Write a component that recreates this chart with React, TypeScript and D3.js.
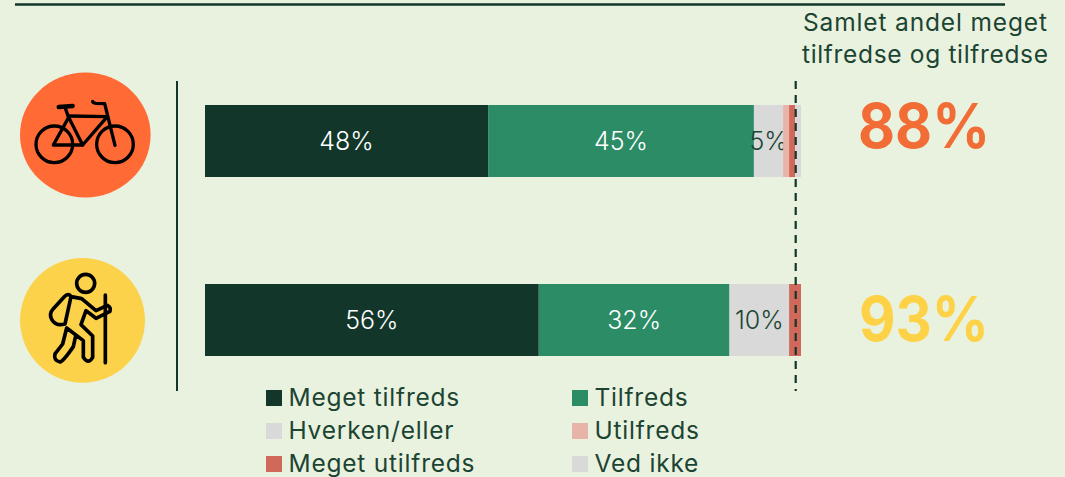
import React from "react";
import * as d3 from "d3";

const rows = ["Sykkel", "Fottur"];
const categories = ["Meget tilfreds", "Tilfreds", "Hverken/eller", "Utilfreds", "Meget utilfreds", "Ved ikke"];
const cykelValues = [47.5, 44.6, 4.9, 1, 1, 1];
const vandreValues = [56, 32, 10, 0, 2, 0];
const totals = ["88%", "93%"];
const colors = ["#12372a", "#2c8c66", "#d9d9d9", "#e8b4aa", "#d0695a", "#d9d9d9"];
const labelColors = ["#ffffff", "#ffffff", "#1c4433", "#1c4433", "#1c4433", "#1c4433"];
const totalColors = ["#f26d36", "#fdd247"];
const title = ["Samlet andel meget", "tilfredse og tilfredse"];
const seriesByRow = [cykelValues, vandreValues];
const FONT = "Inter, sans-serif";
const INK = "#1c4433";

function stack(values: number[]) {
  let sum = 0;
  return values.map((v) => {
    const s = { x0: sum, x1: sum + v, v };
    sum += v;
    return s;
  });
}

function Bike() {
  return (
    <g transform="translate(10,60) scale(0.3333)" fill="none" stroke="#000" strokeWidth={10} strokeLinecap="round" strokeLinejoin="round">
      <circle cx={133} cy={253} r={55} />
      <circle cx={315} cy={253} r={55} />
      <path d="M130,255 L176,172 L218,255 Z" />
      <path d="M218,255 L292,170 L175,168" />
      <path d="M165,142 L176,172" />
      <path d="M146,141 L188,138" strokeWidth={13} />
      <path d="M315,256 L284,131 L258,130 Q248,129 248,124" />
    </g>
  );
}

function Hiker() {
  return (
    <g transform="translate(10,250) scale(0.3333)" fill="none" stroke="#000" strokeWidth={11} strokeLinecap="round" strokeLinejoin="round">
      <circle cx={227} cy={100} r={27} />
      <path d="M286,135 L286,338" />
      <path d="M180,136 Q172,130 163,140 L130,176 Q116,192 125,208 Q138,230 165,222 L183,140 L215,146 L258,182 L292,166 Q304,172 300,184 L258,205 L228,182 L213,224 L248,258 L248,322 Q235,345 220,322 L220,272 L170,234 L158,282 L135,312 Q130,332 150,336 Q160,334 190,290 L196,262" />
    </g>
  );
}

export default function App() {
  const x = d3.scaleLinear().domain([0, 100]).range([205, 801]);
  const y = d3.scaleBand().domain(rows).range([105, 356]).paddingInner(107 / 179);
  return (
    <svg width={1065} height={477} style={{ position: "absolute", left: 0, top: 0 }} fontFamily={FONT}>
      <rect width={1065} height={477} fill="#e9f2df" />
      <line x1={15} x2={1005} y1={4.5} y2={4.5} stroke="#12372a" strokeWidth={2.5} />
      <line x1={177} x2={177} y1={81} y2={391} stroke="#12372a" strokeWidth={2} />
      <ellipse cx={85.3} cy={135} rx={65.3} ry={62.4} fill="#ff6a35" />
      <Bike />
      <ellipse cx={82.5} cy={320.3} rx={62.5} ry={62.4} fill="#fcd24a" />
      <Hiker />
      {rows.map((r, ri) => (
        <g key={r}>
          {stack(seriesByRow[ri]).map((s, i) =>
            s.v > 0 ? (
              <g key={i}>
                <rect x={x(s.x0)} width={x(s.x1) - x(s.x0)} y={y(r)} height={y.bandwidth()} fill={colors[i]} />
                {s.v >= 4 && (
                  <text x={(x(s.x0) + x(s.x1)) / 2} y={y(r)! + y.bandwidth() / 2 + 9} textAnchor="middle" fontSize={25} fontWeight={300} fill={labelColors[i]}>
                    {Math.round(s.v) + "%"}
                  </text>
                )}
              </g>
            ) : null
          )}
          <text x={858 + (ri === 0 ? 0 : 1)} y={y(r)! + y.bandwidth() / 2 + (ri === 0 ? 7 : 21)} fontSize={62} fontWeight={700} fill={totalColors[ri]} textLength={ri === 0 ? 132 : 130} lengthAdjust="spacingAndGlyphs">
            {totals[ri]}
          </text>
        </g>
      ))}
      <line x1={795.7} x2={795.7} y1={81} y2={391} stroke="#12372a" strokeWidth={2.2} strokeDasharray="8 6" />
      {title.map((t, i) => (
        <text key={t} x={803 - i} y={30.5 + i * 32} fontSize={24.5} fill={INK} textLength={i === 0 ? 244 : 246} lengthAdjust="spacing">
          {t}
        </text>
      ))}
      {categories.map((c, i) => {
        const col = i % 2;
        const row = Math.floor(i / 2);
        const lx = col === 0 ? 266 : 572;
        const ly = 390 + row * 33;
        return (
          <g key={c}>
            <rect x={lx} y={ly} width={16} height={16} fill={colors[i]} />
            <text x={lx + 22.5} y={ly + 16} fontSize={24.5} letterSpacing={0.78} fill={INK}>
              {c}
            </text>
          </g>
        );
      })}
    </svg>
  );
}
